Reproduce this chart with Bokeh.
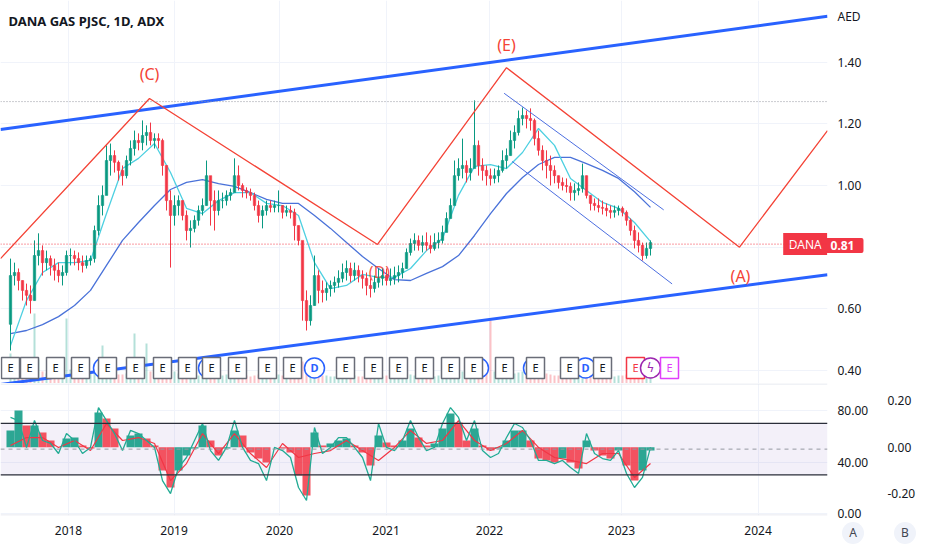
from bokeh.plotting import figure
from bokeh.layouts import column, row
from bokeh.models import (Range1d, LinearAxis, FixedTicker, NumeralTickFormatter,
                          Label, Span, BoxAnnotation, ColumnDataSource, Div)
from bokeh.core.properties import value
from bokeh.embed import file_html
from bokeh.resources import INLINE

# ---------------------------------------------------------------- data
title_text = "DANA GAS PJSC, 1D, ADX"
currency = "AED"
symbol = "DANA"
last_price = 0.81
first_open = 0.55

highs = [0.763,0.750,0.731,0.692,0.682,0.676,0.822,0.845,0.806,0.789,
         0.773,0.763,0.750,0.741,0.789,0.796,0.789,0.783,0.773,0.773,
         0.773,0.870,0.968,1.000,1.130,1.136,1.114,1.081,1.065,1.097,
         1.146,1.178,1.169,1.211,1.195,1.204,1.169,1.169,1.152,1.065,
         0.984,0.968,0.968,0.951,0.919,0.887,0.903,0.935,0.958,1.081,
         1.000,0.984,0.984,0.977,0.984,0.990,1.088,1.065,1.007,0.994,
         0.990,0.977,0.951,0.935,0.951,0.951,0.951,0.984,0.935,0.935,
         0.935,0.925,0.870,0.741,0.660,0.644,0.773,0.725,0.692,0.686,
         0.692,0.705,0.725,0.747,0.757,0.750,0.750,0.741,0.725,0.718,
         0.699,0.708,0.731,0.731,0.731,0.731,0.737,0.741,0.750,0.796,
         0.828,0.845,0.838,0.838,0.848,0.838,0.845,0.848,0.870,0.913,
         0.958,1.081,1.088,1.152,1.081,1.088,1.276,1.146,1.088,1.065,
         1.055,1.055,1.065,1.114,1.120,1.178,1.195,1.243,1.253,1.243,
         1.250,1.217,1.178,1.130,1.114,1.097,1.065,1.032,1.026,1.023,
         1.010,1.007,1.010,1.071,1.032,0.968,0.958,0.958,0.951,0.942,
         0.935,0.935,0.935,0.932,0.919,0.893,0.870,0.848,0.815,0.815,
         0.822]
lows = [0.465,0.676,0.660,0.627,0.611,0.585,0.627,0.741,0.708,0.725,
        0.708,0.692,0.686,0.676,0.708,0.741,0.741,0.725,0.718,0.731,
        0.741,0.750,0.838,0.903,0.984,1.032,1.042,1.016,1.000,1.023,
        1.065,1.097,1.114,1.114,1.130,1.130,1.120,1.120,1.032,0.919,
        0.734,0.870,0.903,0.887,0.822,0.799,0.848,0.870,0.903,0.935,
        0.870,0.854,0.903,0.926,0.935,0.951,0.984,0.984,0.961,0.958,
        0.951,0.919,0.880,0.861,0.903,0.913,0.913,0.913,0.893,0.900,
        0.893,0.822,0.806,0.562,0.530,0.546,0.611,0.618,0.621,0.627,
        0.640,0.653,0.669,0.686,0.692,0.686,0.692,0.686,0.666,0.644,
        0.637,0.653,0.669,0.676,0.676,0.676,0.679,0.686,0.699,0.731,
        0.773,0.789,0.789,0.783,0.789,0.780,0.789,0.796,0.812,0.861,
        0.913,0.951,1.016,1.023,1.010,1.016,1.065,1.032,1.016,1.000,
        1.000,1.007,1.010,1.042,1.055,1.097,1.120,1.162,1.195,1.185,
        1.178,1.130,1.097,1.049,1.023,1.000,1.007,0.990,0.984,0.977,
        0.951,0.951,0.968,0.977,0.958,0.919,0.919,0.913,0.906,0.900,
        0.893,0.896,0.903,0.900,0.870,0.838,0.796,0.783,0.757,0.763,
        0.773]
closes = [0.708,0.718,0.692,0.660,0.644,0.627,0.773,0.789,0.750,0.763,
          0.741,0.725,0.708,0.718,0.773,0.773,0.763,0.750,0.741,0.757,
          0.763,0.854,0.935,0.968,1.081,1.097,1.075,1.049,1.032,1.081,
          1.120,1.146,1.139,1.162,1.172,1.146,1.152,1.146,1.065,0.951,
          0.903,0.935,0.951,0.903,0.854,0.861,0.887,0.919,0.935,1.032,
          0.951,0.919,0.951,0.951,0.968,0.977,1.032,1.000,0.984,0.977,
          0.968,0.935,0.903,0.919,0.935,0.929,0.935,0.935,0.913,0.919,
          0.913,0.870,0.822,0.627,0.562,0.611,0.708,0.660,0.653,0.666,
          0.676,0.686,0.699,0.718,0.731,0.708,0.725,0.708,0.699,0.676,
          0.666,0.686,0.699,0.708,0.692,0.699,0.708,0.718,0.731,0.783,
          0.812,0.822,0.806,0.815,0.806,0.796,0.815,0.822,0.848,0.893,
          0.935,1.032,1.055,1.065,1.042,1.055,1.130,1.065,1.049,1.032,
          1.023,1.032,1.049,1.081,1.097,1.146,1.172,1.217,1.227,1.217,
          1.211,1.152,1.114,1.081,1.065,1.049,1.032,1.010,1.000,0.997,
          0.977,0.984,0.990,1.032,0.968,0.942,0.935,0.929,0.926,0.919,
          0.913,0.919,0.926,0.913,0.887,0.854,0.822,0.806,0.773,0.796,
          0.815]
volumes = [30,22,14,10,12,18,70,24,12,10,
           9,8,9,10,65,14,9,8,8,9,
           10,20,18,38,16,12,10,9,9,10,
           12,50,14,12,40,12,10,9,14,18,
           22,12,10,9,11,10,9,8,8,12,
           10,9,8,8,9,8,12,9,8,8,
           7,8,9,8,7,7,8,9,8,7,
           8,12,14,22,18,14,10,9,8,8,
           7,7,8,7,8,7,8,7,7,8,
           7,8,7,7,8,7,8,9,8,10,
           9,8,8,7,8,8,7,8,9,10,
           11,14,10,12,9,9,16,10,9,12,
           63,12,9,9,10,9,10,11,12,10,
           9,10,12,11,10,9,8,8,9,8,
           8,9,8,12,10,9,8,8,8,7,
           8,7,8,8,9,10,10,11,9,8,
           8]
ma_step = 4
ma_fast = [0.481,0.627,0.718,0.750,0.750,0.757,0.909,1.055,1.088,1.136,
           1.042,0.926,0.909,0.951,0.977,0.977,0.942,0.935,0.903,0.750,
           0.666,0.676,0.712,0.702,0.702,0.731,0.789,0.828,0.968,1.062,
           1.068,1.055,1.107,1.185,1.130,1.023,0.984,0.945,0.926,0.880,
           0.818]
ma_slow = [0.520,0.530,0.549,0.575,0.611,0.660,0.741,0.822,0.880,0.935,
           0.987,1.010,1.019,1.006,0.997,0.977,0.955,0.942,0.942,0.903,
           0.861,0.815,0.770,0.731,0.695,0.692,0.715,0.737,0.773,0.838,
           0.909,0.974,1.026,1.068,1.091,1.091,1.071,1.049,1.023,0.980,
           0.929]
osc_step = 2
adx_line = [74.6,72.2,51.3,72.2,56.7,54.4,46.6,62.1,56.7,46.6,
            51.3,82.3,72.2,62.1,48.9,64.5,62.1,56.7,51.3,25.6,
            15.5,35.7,43.5,56.7,69.9,48.9,41.2,51.3,72.2,51.3,
            41.2,38.8,25.6,51.3,48.9,43.5,20.2,10.1,66.8,46.6,
            51.3,59.0,59.0,51.3,43.5,25.6,69.9,51.3,48.9,56.7,
            72.2,59.0,48.9,51.3,69.9,82.3,74.6,56.7,72.2,48.9,
            43.5,46.6,59.0,69.9,66.8,56.7,41.2,41.2,38.8,41.2,
            35.7,31.1,62.1,46.6,42.7,41.2,48.9,31.1,20.2,28.0,
            51.3]
signal_step = 4
signal_line = [52.8,59.0,59.0,51.3,56.7,48.9,69.9,56.7,59.0,54.4,
               25.6,38.8,62.1,46.6,62.1,46.6,35.7,54.4,43.5,46.6,
               48.9,56.7,48.9,41.2,51.3,64.5,54.4,56.7,72.2,56.7,
               48.9,54.4,64.5,51.3,43.5,41.2,38.8,46.6,46.6,28.0,
               38.8]
hist_vals = [0.072,0.159,0.094,0.094,0.064,0.029,0.000,0.038,0.042,0.007,
             -0.006,0.150,0.124,0.081,0.000,0.051,0.059,0.038,0.007,-0.101,
             -0.174,-0.101,-0.036,-0.006,0.094,0.029,-0.036,-0.006,0.072,0.051,
             -0.023,-0.049,-0.066,0.000,-0.006,-0.023,-0.122,-0.209,0.064,0.007,
             0.016,0.029,0.038,0.007,-0.023,-0.079,0.051,0.020,0.007,0.029,
             0.081,0.042,0.007,0.016,0.081,0.146,0.107,0.029,0.081,0.007,
             -0.014,-0.006,0.029,0.072,0.072,0.029,-0.049,-0.057,-0.066,-0.049,
             -0.066,-0.092,0.029,-0.014,-0.036,-0.049,-0.014,-0.079,-0.144,-0.101,
             -0.014]

year_ticks = [14.5, 40.9, 67.25, 93.9, 119.75, 152.75, 186.9]
year_labels = ["2018", "2019", "2020", "2021", "2022", "2023", "2024"]
price_ticks = [0.4, 0.6, 0.8, 1.0, 1.2, 1.4]
currency_tick = 1.549
osc_ticks = [0, 40, 80]
hist_ticks = [-0.2, 0.0, 0.2]
band_low, band_mid, band_high = 30, 50, 70
high_line = 1.272
scale_buttons = ["A", "B"]

earnings_idx = [0, 4.75, 11.25, 17.5, 24.25, 31.25, 38, 44.25, 50.25, 56.75,
                64.25, 70.5, 83.75, 90.75, 97, 103.5, 110, 115.75, 123.5,
                131.25, 139.75, 148]
dividend_idx = [23.25, 49.5, 76, 117, 130.75, 143.75]
dividend_labeled_idx = [76, 143.75]
next_earnings_idx = [156.25]
split_idx = [160]
future_earnings_idx = [164.75]

upper_trend_x = [-2.5, 204.25]
upper_trend_y = [1.1815, 1.5488]
lower_trend_x = [-2.5, 204.25]
lower_trend_y = [0.355, 0.711]
wave_x = [-2.5, 34.75, 91.75, 124.0, 182.25, 204.25]
wave_y = [0.763, 1.282, 0.809, 1.382, 0.800, 1.178]
channel_up_x = [123.4, 163.3]
channel_up_y = [1.299, 0.921]
channel_dn_x = [125.4, 165.4]
channel_dn_y = [1.078, 0.681]
wave_names = ["(C)", "(E)", "(A)"]
wave_name_x = [34.75, 124.0, 182.5]
wave_name_y = [1.363, 1.457, 0.708]
hidden_wave_name = ["(D)"]
hidden_wave_x = [92.25]
hidden_wave_y = [0.721]

# ---------------------------------------------------------------- styling
FONT = "Noto Sans"
GREEN = "#089981"
RED = "#f23645"
TXT = "#131722"
GRID = "#f0f3fa"
WAVE = "#f44336"
TREND = "#2962ff"
W, FRAME_W = 932, 827
RIGHT = W - FRAME_W
H_MAIN, H_OSC, OSC_PAD, H_TIME = 383, 132, 6, 29

n = len(closes)
idx = list(range(n))
opens = [first_open] + closes[:-1]
cols = [GREEN if c >= o else RED for o, c in zip(opens, closes)]
src = ColumnDataSource(dict(x=idx, h=highs, l=lows,
                            top=[max(o, c) for o, c in zip(opens, closes)],
                            bot=[min(o, c) for o, c in zip(opens, closes)],
                            col=cols, vol=volumes))

xr = Range1d(-2.5, 204.25)
px_per_bar = FRAME_W / (xr.end - xr.start)


def style_axis(ax, standoff):
    ax.axis_line_color = None
    ax.major_tick_line_color = None
    ax.minor_tick_line_color = None
    ax.major_tick_out = 0
    ax.major_tick_in = 0
    ax.minor_tick_out = 0
    ax.major_label_standoff = standoff
    ax.major_label_text_font_size = "12px"
    ax.major_label_text_color = TXT
    ax.major_label_text_font = FONT


def base_fig(width, height, y_range, **kw):
    f = figure(width=width, height=height, x_range=kw.pop("x_range", xr), y_range=y_range,
               output_backend="svg", toolbar_location=None,
               min_border_left=0, min_border_top=0, **kw)
    f.outline_line_color = None
    return f


# ---------------------------------------------------------------- price pane
p = base_fig(W, H_MAIN, Range1d(0.3582, 1.5997), x_axis_location=None,
             y_axis_location="right", min_border_right=RIGHT, min_border_bottom=0)
p.extra_y_ranges = {"vol": Range1d(0, H_MAIN)}
p.xgrid.ticker = FixedTicker(ticks=year_ticks)
p.xgrid.grid_line_color = GRID
p.ygrid.ticker = FixedTicker(ticks=price_ticks)
p.ygrid.grid_line_color = GRID
p.yaxis.ticker = FixedTicker(ticks=price_ticks + [currency_tick])
p.yaxis.formatter = NumeralTickFormatter(format="0.00")
p.yaxis.major_label_overrides = {currency_tick: currency}
style_axis(p.yaxis[0], 10)

p.vbar(x="x", top="vol", bottom=0, width=0.5, y_range_name="vol", source=src,
       fill_color="col", fill_alpha=0.3, line_color=None)

p.add_layout(Span(location=high_line, dimension="width", line_color="#9598a1",
                  line_dash="1 2", line_width=1))
p.add_layout(Span(location=last_price, dimension="width", line_color=RED,
                  line_dash="1 2", line_width=1))

ma_x = idx[::ma_step]
p.line(ma_x, ma_slow, line_color="#4a72d9", line_width=1.3)
p.line(ma_x, ma_fast, line_color="#4dd0e1", line_width=1.3)

p.text(x=hidden_wave_x, y=hidden_wave_y, text=hidden_wave_name, text_color=WAVE,
       text_font=value(FONT), text_font_size="16px", text_align="center",
       text_baseline="middle", text_alpha=0.9)

p.segment(x0="x", y0="h", x1="x", y1="l", line_color="col", line_width=1, source=src)
p.vbar(x="x", top="top", bottom="bot", width=0.6, fill_color="col",
       line_color="col", line_width=0.6, source=src)

p.line(upper_trend_x, upper_trend_y, line_color=TREND, line_width=3)
p.line(lower_trend_x, lower_trend_y, line_color=TREND, line_width=3)
p.line(wave_x, wave_y, line_color=WAVE, line_width=1.3)
p.line(channel_up_x, channel_up_y, line_color="#4d6fe0", line_width=1)
p.line(channel_dn_x, channel_dn_y, line_color="#4d6fe0", line_width=1)

p.text(x=wave_name_x, y=wave_name_y, text=wave_names, text_color=WAVE,
       text_font=value(FONT), text_font_size="16px", text_align="center",
       text_baseline="middle")

mk = 0.4085
p.scatter(x=dividend_idx, y=[mk] * len(dividend_idx), size=20, marker="circle",
          line_color=TREND, line_width=1.5, fill_color="white")
p.text(x=dividend_labeled_idx, y=[mk] * len(dividend_labeled_idx),
       text=["D"] * len(dividend_labeled_idx),
       text_color=TREND, text_font=value(FONT), text_font_size="11px",
       text_align="center", text_baseline="middle", text_font_style="bold")
p.rect(x=earnings_idx, y=[mk] * len(earnings_idx), width=18, height=21,
       width_units="screen", height_units="screen", fill_color="white",
       line_color="#6a6d78", line_width=1.5)
p.text(x=earnings_idx, y=[mk] * len(earnings_idx), text=["E"] * len(earnings_idx),
       text_color=TXT, text_font=value(FONT), text_font_size="11px",
       text_align="center", text_baseline="middle")
p.rect(x=next_earnings_idx, y=[mk], width=18, height=21, width_units="screen",
       height_units="screen", fill_color="white", line_color=RED, line_width=1.5)
p.text(x=next_earnings_idx, y=[mk], text=["E"], text_color=RED, text_font=value(FONT),
       text_font_size="11px", text_align="center", text_baseline="middle")
p.scatter(x=split_idx, y=[mk], size=20, marker="circle", line_color="#9c27b0",
          line_width=1.5, fill_color="white")
p.text(x=split_idx, y=[mk], text=["ϟ"], text_color="#9c27b0", text_font=value("DejaVu Sans"),
       text_font_size="12px", text_align="center", text_baseline="middle")
p.rect(x=future_earnings_idx, y=[mk], width=18, height=21, width_units="screen",
       height_units="screen", fill_color="white", line_color="#e040fb", line_width=1.5)
p.text(x=future_earnings_idx, y=[mk], text=["E"], text_color="#e040fb", text_font=value(FONT),
       text_font_size="11px", text_align="center", text_baseline="middle")

# symbol badge: left half inside the chart area, price half on the price scale
badge_x = xr.end - 22.3 / px_per_bar
p.rect(x=[badge_x], y=[last_price], width=44, height=22, width_units="screen",
       height_units="screen", fill_color=RED, line_color=None)
p.text(x=[badge_x], y=[last_price], text=[symbol], text_color="white",
       text_font=value(FONT), text_font_size="12px", text_align="center",
       text_baseline="middle")

p.add_layout(Label(x=8, y=H_MAIN - 20, x_units="screen", y_units="screen", text=title_text,
                   text_font=FONT, text_font_size="13px", text_font_style="bold",
                   text_color=TXT, text_baseline="middle", text_align="left"))
price_label = Label(x=-22, y=H_MAIN - 245, x_units="screen", y_units="screen",
                    text="%.2f" % last_price,
                    text_font=FONT, text_font_size="12px", text_color="white",
                    text_font_style="bold", text_baseline="middle", text_align="center",
                    background_fill_color=RED, border_radius=2, padding=(9, 3))
p.add_layout(price_label, "right")

# ---------------------------------------------------------------- oscillator pane
q = base_fig(W, H_OSC + OSC_PAD, Range1d(-1.55, 100.97), x_axis_location=None,
             y_axis_location="right", min_border_right=RIGHT, min_border_bottom=OSC_PAD)
q.extra_y_ranges = {"hist": Range1d(-0.295, 0.2752)}
q.xgrid.ticker = FixedTicker(ticks=year_ticks)
q.xgrid.grid_line_color = GRID
q.ygrid.grid_line_color = GRID
q.yaxis.ticker = FixedTicker(ticks=osc_ticks)
q.yaxis.formatter = NumeralTickFormatter(format="0.00")
style_axis(q.yaxis[0], 10)
ax2 = LinearAxis(y_range_name="hist", ticker=FixedTicker(ticks=hist_ticks),
                 formatter=NumeralTickFormatter(format="0.00"))
style_axis(ax2, 16)
q.add_layout(ax2, "right")

q.add_layout(BoxAnnotation(bottom=band_low, top=band_high, fill_color="#7e57c2",
                           fill_alpha=0.09, line_color=None, level="underlay"))
q.add_layout(Span(location=band_mid, dimension="width", line_color="#9598a1",
                  line_dash="4 4", line_width=1))

osc_x = idx[::osc_step]
hist_cols = [GREEN] + [RED if b < a else GREEN for a, b in zip(hist_vals[:-1], hist_vals[1:])]
q.vbar(x=osc_x, top=hist_vals, bottom=0, width=2, y_range_name="hist",
       fill_color=hist_cols, fill_alpha=0.85, line_color=None)
q.add_layout(Span(location=band_high, dimension="width", line_color="#2a2e39", line_width=1.2))
q.add_layout(Span(location=band_low, dimension="width", line_color="#2a2e39", line_width=1.2))
q.line(idx[::signal_step], signal_line, line_color=RED, line_width=1.2)
q.line(osc_x, adx_line, line_color="#22ab94", line_width=1.3)

q.add_layout(Span(location=100.6, dimension="width", line_color="#e0e3eb", line_width=1))
q.add_layout(Span(location=-1.2, dimension="width", line_color="#e0e3eb", line_width=1))

# ---------------------------------------------------------------- time scale row
t = base_fig(FRAME_W, H_TIME, Range1d(0, 1), x_axis_location="below",
             y_axis_location=None, min_border_right=0, min_border_bottom=25)
t.grid.visible = False
t.xaxis.ticker = FixedTicker(ticks=year_ticks)
t.xaxis.major_label_overrides = {tk: s for tk, s in zip(year_ticks, year_labels)}
style_axis(t.xaxis[0], 0)

btn_html = "".join(
    '<div style="position:absolute;left:%dpx;top:1px;width:22px;height:22px;'
    'border-radius:11px;background:%s;color:#434651;font-family:\'%s\';'
    'font-size:12px;line-height:22px;text-align:center;">%s</div>' % (lx, GRID, FONT, s)
    for lx, s in zip([15, 67], scale_buttons))
b = Div(text='<div style="position:relative;width:%dpx;height:%dpx;">%s</div>'
        % (RIGHT, H_TIME, btn_html), width=RIGHT, height=H_TIME, margin=(0, 0, 0, 0))

layout = column(p, q, row(t, b))
open("out.html", "w").write(file_html(layout, INLINE))
